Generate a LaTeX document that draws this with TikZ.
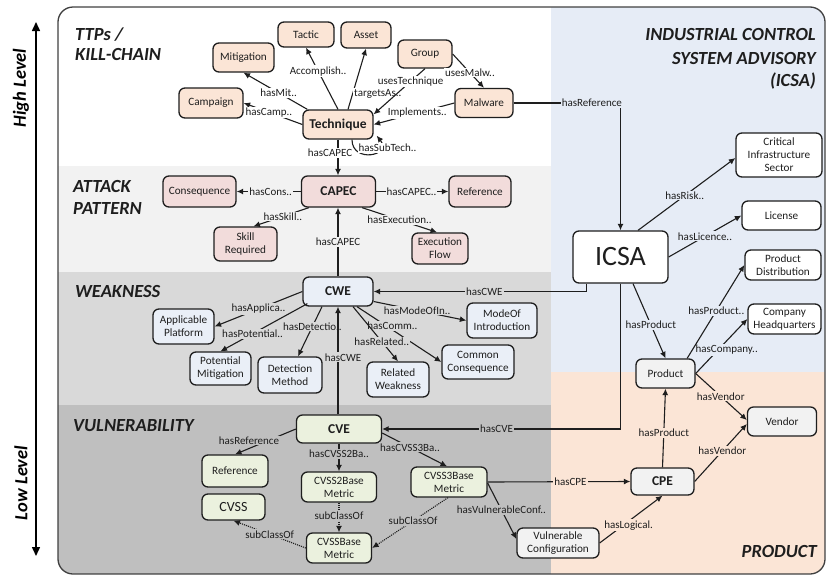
\documentclass[tikz,border=0pt]{standalone}
\usepackage{fontspec}
\setmainfont{Carlito}
\usetikzlibrary{arrows.meta}

\definecolor{bandA}{HTML}{F2F2F2}
\definecolor{bandW}{HTML}{D9D9D9}
\definecolor{bandV}{HTML}{BFBFBF}
\definecolor{bandI}{HTML}{E6ECF6}
\definecolor{bandP}{HTML}{FBE5D6}
\definecolor{fillT}{HTML}{FBE5D6}
\definecolor{fillC}{HTML}{F2DCDB}
\definecolor{fillW}{HTML}{EAEFF7}
\definecolor{fillV}{HTML}{EBF1DE}
\definecolor{fillP}{HTML}{F2F2F2}
\definecolor{ink}{HTML}{1E1E1E}

\tikzset{
  box/.style={draw=ink, line width=1.3pt, rounded corners=6pt, align=center,
    text=ink, inner sep=1pt, font=\fontsize{11.2}{13}\selectfont},
  keynode/.style={font=\bfseries\fontsize{13.5}{15}\selectfont},
  sz/.style 2 args={minimum width=#1pt, minimum height=#2pt},
  ttps/.style={box, fill=fillT},
  capecs/.style={box, fill=fillC},
  cwes/.style={box, fill=fillW},
  cves/.style={box, fill=fillV},
  icsas/.style={box, fill=white},
  prods/.style={box, fill=fillP},
  edgearr/.style={draw=ink, line width=1.1pt, -{Latex[length=6.5pt,width=6pt]}},
  subarr/.style={edgearr, densely dotted},
  lab/.style={font=\fontsize{11}{12}\selectfont, text=ink, inner sep=1pt},
  lT/.style={lab, fill=white},
  lA/.style={lab, fill=bandA},
  lW/.style={lab, fill=bandW},
  lV/.style={lab, fill=bandV},
  lI/.style={lab, fill=bandI},
  lP/.style={lab, fill=bandP},
  title/.style={font=\bfseries\itshape\fontsize{18.5}{22}\selectfont, text=ink, inner sep=0pt},
}

\begin{document}
\begin{tikzpicture}[x=1pt, y=-1pt]
\useasboundingbox (0,0) rectangle (827,576);

% layer bands inside the rounded frame
\begin{scope}
  \clip[rounded corners=15pt] (58,7) rectangle (825,574);
  \fill[white] (58,7) rectangle (551,166);
  \fill[bandA] (58,166) rectangle (551,272);
  \fill[bandW] (58,272) rectangle (551,405);
  \fill[bandV] (58,405) rectangle (551,574);
  \fill[bandI] (551,7) rectangle (825,372);
  \fill[bandP] (551,372) rectangle (825,574);
\end{scope}
\draw[line width=1.3pt, draw=black!75, rounded corners=15pt] (58,7) rectangle (825,574);

% level axis
\coordinate (axtop) at (36,22);
\coordinate (axbot) at (36,556);
\draw[line width=1.5pt, black, {Triangle[length=9pt,width=8pt]}-{Triangle[length=9pt,width=8pt]}] (axtop) -- (axbot);
\node[title, rotate=90, text=black] (hilev) at (21,88) {High Level};
\node[title, rotate=90, text=black] (lolev) at (21,483) {Low Level};

% layer titles
\node[title, anchor=base west] (t1a) at (75,40) {TTPs /};
\node[title, anchor=base west] (t1b) at (75,60) {KILL-CHAIN};
\node[title, anchor=base west] (t2a) at (73,192) {ATTACK};
\node[title, anchor=base west] (t2b) at (73,214) {PATTERN};
\node[title, anchor=base west] (t3) at (75,297) {WEAKNESS};
\node[title, anchor=base west] (t4) at (73,431) {VULNERABILITY};
\node[title, anchor=base east] (t5a) at (816,40) {INDUSTRIAL CONTROL};
\node[title, anchor=base east] (t5b) at (816,64) {SYSTEM ADVISORY};
\node[title, anchor=base east] (t5c) at (816,86) {(ICSA)};
\node[title, anchor=base east] (t6) at (817,557) {PRODUCT};

% TTPs / kill-chain
\node[ttps, sz={61}{29}] (mitig) at (243.5,57.5) {Mitigation};
\node[ttps, sz={56}{25}] (tactic) at (306,34.5) {Tactic};
\node[ttps, sz={50}{26}] (asset) at (366,35) {Asset};
\node[ttps, sz={54}{28}] (group) at (425,54) {Group};
\node[ttps, sz={64}{30}] (campaign) at (211,103) {Campaign};
\node[ttps, sz={58}{29}] (malware) at (484,103) {Malware};
\node[ttps, keynode, sz={70}{29}] (tech) at (338,124.5) {Technique};

% attack pattern
\node[capecs, sz={73}{31}] (cons) at (199.5,191.5) {Consequence};
\node[capecs, keynode, sz={74}{31}] (capec) at (338.5,191.5) {CAPEC};
\node[capecs, sz={62}{31}] (capref) at (480,191.5) {Reference};
\node[capecs, sz={63}{34}] (skill) at (245.5,244) {Skill\\Required};
\node[capecs, sz={56}{31}] (exec) at (440,248.5) {Execution\\Flow};

% weakness
\node[cwes, keynode, sz={70}{29}] (cwe) at (338,291.5) {CWE};
\node[cwes, sz={61}{35}] (platform) at (183.5,326.5) {Applicable\\Platform};
\node[cwes, sz={61}{33}] (potmit) at (220.5,368.5) {Potential\\Mitigation};
\node[cwes, sz={64}{36}] (detect) at (290,375) {Detection\\Method};
\node[cwes, sz={62}{35}] (related) at (398,379.5) {Related\\Weakness};
\node[cwes, sz={72}{34}] (commcons) at (478,362) {Common\\Consequence};
\node[cwes, sz={70}{35}] (mode) at (502,320.5) {ModeOf\\Introduction};

% vulnerability
\node[cves, keynode, sz={85}{28}] (cve) at (339,429) {CVE};
\node[cves, sz={66}{32}] (vref) at (235,471) {Reference};
\node[cves, sz={63}{26}, font=\fontsize{14}{16}\selectfont] (cvss) at (233.5,507) {CVSS};
\node[cves, sz={75}{30}] (cvss2) at (339,487) {CVSS2Base\\Metric};
\node[cves, sz={65}{30}] (cvssbase) at (339,548) {CVSSBase\\Metric};
\node[cves, sz={76}{30}] (cvss3) at (449,482) {CVSS3Base\\Metric};

% advisory
\node[icsas, sz={95}{52}, font=\fontsize{28}{30}\selectfont] (icsa) at (620.5,257) {ICSA};
\node[icsas, sz={86}{44}] (cis) at (779,155) {Critical\\Infrastructure\\Sector};
\node[icsas, sz={79}{29}] (license) at (781.5,215.5) {License};
\node[icsas, sz={76}{30}] (pdist) at (783,265) {Product\\Distribution};
\node[icsas, sz={73}{30}] (chq) at (784.5,319) {Company\\Headquarters};

% product
\node[prods, sz={59}{29}] (product) at (665.5,373.5) {Product};
\node[prods, sz={69}{29}] (vendor) at (782,421.5) {Vendor};
\node[prods, keynode, sz={63}{27}] (cpe) at (662.5,481.5) {CPE};
\node[prods, sz={82}{30}] (vulnconf) at (558,543) {Vulnerable\\Configuration};

% --- TTP relations
\draw[edgearr] (tech.north) -- node[lT, pos=0.62] {Accomplish..} (tactic.south);
\draw[edgearr] ([xshift=10pt]tech.north) -- node[lT, pos=0.26, anchor=west] {targetsAs..} (asset.south);
\draw[edgearr] ([xshift=5pt]tech.north west) -- node[lT, pos=0.45] {hasMit..} (mitig.south);
\draw[edgearr] (tech.west) -- node[lT, pos=0.57] {hasCamp..} (campaign.east);
\draw[edgearr] (group.south) -- node[lT, pos=0.28] {usesTechnique} ([yshift=-5pt]tech.north east);
\draw[edgearr] (group.east) -- node[lT, pos=0.55] {usesMalw..} (malware.north);
\draw[edgearr] (malware.west) -- node[lT, pos=0.46] {Implements..} (tech.east);
\draw[edgearr] ([xshift=14pt]tech.south) .. controls +(0,24) and +(16,20) ..
  node[lT, pos=0.75, xshift=8pt] {hasSubTech..} ([xshift=3pt,yshift=4pt]tech.south east);
\draw[edgearr] (tech.south) -- node[lT, pos=0.38, xshift=-8pt] {hasCAPEC} (tech.south |- capec.north);
\draw[edgearr] (malware.east) -| node[lI, pos=0.5, anchor=east, xshift=3pt] {hasReference} (icsa.north);

% --- attack pattern relations
\draw[edgearr] (capec.west) -- node[lA, pos=0.47] {hasCons..} (cons.east);
\draw[edgearr] (capec.east) -- node[lA, pos=0.49] {hasCAPEC..} (capref.west);
\draw[edgearr] ([xshift=8pt]capec.south west) -- node[lA, pos=0.47] {hasSkill..} ([xshift=8pt]skill.north);
\draw[edgearr] ([xshift=-14pt]capec.south east) -- node[lA, pos=0.5] {hasExecution..} ([xshift=-3pt]exec.north);
\draw[edgearr] (cwe.north) -- node[lA, pos=0.5] {hasCAPEC} (cwe.north |- capec.south);

% --- weakness relations
\draw[edgearr] (cwe.west) -- node[lW, pos=0.5] {hasApplica..} (platform.east);
\draw[edgearr] ([xshift=5pt,yshift=3pt]cwe.south west) -- node[lW, pos=0.63] {hasPotential..} (potmit.north);
\draw[edgearr] ([xshift=-16pt]cwe.south) -- node[lW, pos=0.4] {hasDetectio..} ([xshift=8pt]detect.north);
\draw[edgearr] ([yshift=-10pt]cwe.east) -- node[lW, pos=0.47] {hasModeOfIn..} (mode.west);
\draw[edgearr] ([xshift=19pt]cwe.south) -- node[lW, pos=0.42, yshift=4pt] {hasComm..} (commcons.west);
\draw[edgearr] ([xshift=15pt]cwe.south) -- node[lW, pos=0.64] {hasRelated..} (related.north);
\draw[edgearr] (cve.north -| cwe.south) -- node[lW, pos=0.53, xshift=5pt] {hasCWE} (cwe.south);
\draw[edgearr] ([xshift=-34pt]icsa.south) |- node[lW, pos=0.74] {hasCWE} (cwe.east);

% --- vulnerability relations
\draw[edgearr] (icsa.south) |- node[lV, pos=0.76] {hasCVE} (cve.east);
\draw[edgearr] (cve.west) -- node[lV, pos=0.77, yshift=8pt] {hasReference} (vref.north);
\draw[edgearr] (cve.south) -- node[lV, pos=0.38] {hasCVSS2Ba..} (cvss2.north);
\draw[edgearr] ([yshift=-4pt]cve.east) -- node[lV, pos=0.43] {hasCVSS3Ba..} ([xshift=-2pt]cvss3.north);
\draw[subarr] (cvss2.south) -- node[lV, pos=0.45] {subClassOf} (cvssbase.north);
\draw[subarr] ([xshift=-1pt]cvss3.south) -- node[lV, pos=0.46] {subClassOf} (cvssbase.east);
\draw[subarr] (cvssbase.west) -- node[lV, pos=0.5] {subClassOf} (cvss.south);
\draw[edgearr] ([yshift=-1pt]cvss3.east) -- node[lV, pos=0.48] {hasVulnerableConf..} ([yshift=4pt]vulnconf.west);
\draw[edgearr] (cvss3.east) -- node[lP, pos=0.58] {hasCPE} (cpe.west);

% --- product relations
\draw[edgearr] (vulnconf.east) -- node[lP, pos=0.46, yshift=-4pt] {hasLogical.} (cpe.south);
\draw[edgearr] (cpe.north) -- node[lP, pos=0.44] {hasProduct} (product.south);
\draw[edgearr] (cpe.east) -- node[lP, pos=0.53] {hasVendor} ([yshift=-2.5pt]vendor.west);
\draw[edgearr] (product.east) -- node[lP, pos=0.49] {hasVendor} ([yshift=1.5pt]vendor.west);
\draw[edgearr] (product.east) -- node[lI, pos=0.6, yshift=-9pt] {hasCompany..} (chq.west);
\draw[edgearr] ([xshift=-8.5pt]product.north east) -- node[lI, pos=0.51] {hasProduct..} (pdist.west);

% --- advisory relations
\draw[edgearr] ([xshift=12.5pt]icsa.south) -- node[lI, pos=0.55] {hasProduct} (product.north);
\draw[edgearr] (icsa.east) -- node[lI, pos=0.5] {hasLicence..} (license.west);
\draw[edgearr] ([xshift=17.5pt]icsa.north) -- node[lI, pos=0.48] {hasRisk..} ([yshift=-3pt]cis.west);

\end{tikzpicture}
\end{document}
